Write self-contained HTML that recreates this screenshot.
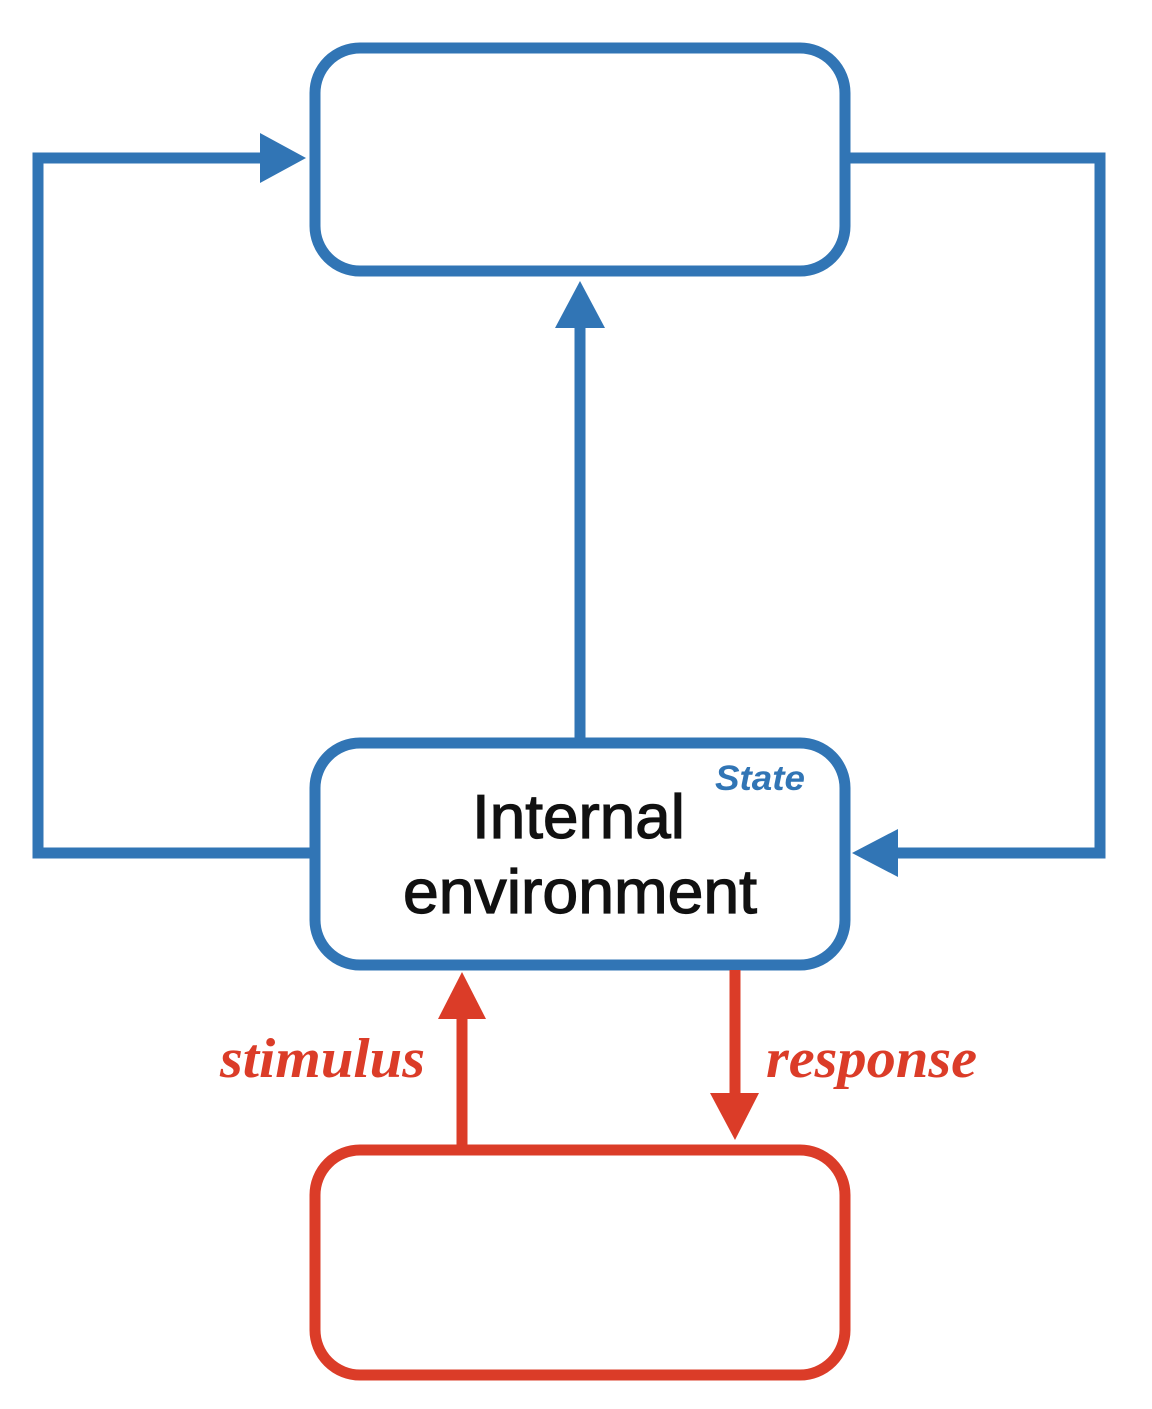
<!DOCTYPE html>
<html><head><meta charset="utf-8"><style>html,body{margin:0;padding:0;background:#fff}</style></head>
<body>
<svg width="1152" height="1404" viewBox="0 0 1152 1404" xmlns="http://www.w3.org/2000/svg">
<g fill="none" stroke="#3175b5" stroke-width="11">
<rect x="315" y="48" width="530" height="223" rx="45"/>
<rect x="315" y="743" width="530" height="222" rx="45"/>
<polyline points="310,853 38,853 38,158 262,158"/>
<polyline points="850,158 1100,158 1100,853 895,853"/>
<line x1="580" y1="738" x2="580" y2="325"/>
</g>
<g fill="#3175b5">
<polygon points="306,158 260,133 260,183"/>
<polygon points="852,853 898,829 898,877"/>
<polygon points="580,281 555,328 605,328"/>
</g>
<rect x="315" y="1150" width="530" height="225" rx="45" fill="none" stroke="#db3c28" stroke-width="11"/>
<g stroke="#db3c28" stroke-width="11">
<line x1="462" y1="1148" x2="462" y2="1015"/>
<line x1="735" y1="970" x2="735" y2="1095"/>
</g>
<g fill="#db3c28">
<polygon points="462,972 438,1019 486,1019"/>
<polygon points="735,1140 710,1093 759,1093"/>
</g>
<g font-family="Liberation Sans, sans-serif" fill="#111" font-size="62" stroke="#111" stroke-width="1.2">
<text x="472" y="838" textLength="213" lengthAdjust="spacingAndGlyphs">Internal</text>
<text x="403" y="913" textLength="354" lengthAdjust="spacingAndGlyphs">environment</text>
</g>
<text x="715" y="790" textLength="90" lengthAdjust="spacingAndGlyphs" font-family="Liberation Sans, sans-serif" font-weight="bold" font-style="italic" font-size="35" fill="#3175b5">State</text>
<g font-family="Liberation Serif, serif" font-weight="bold" font-style="italic" font-size="56" fill="#db3c28">
<text x="220" y="1077" textLength="205" lengthAdjust="spacingAndGlyphs">stimulus</text>
<text x="766" y="1077" textLength="211" lengthAdjust="spacingAndGlyphs">response</text>
</g>
</svg>
</body></html>
